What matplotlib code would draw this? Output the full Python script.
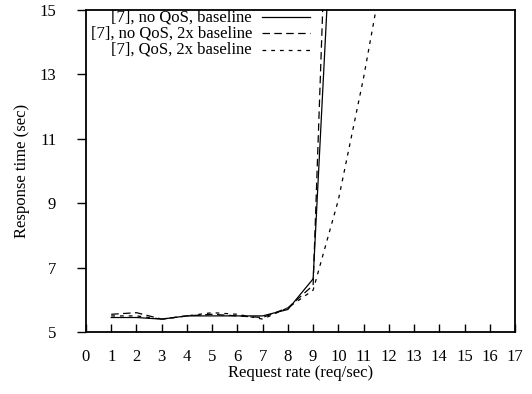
import matplotlib
matplotlib.use("Agg")
import matplotlib.pyplot as plt
from matplotlib.lines import Line2D

plt.rcParams['font.family'] = ['Liberation Serif', 'DejaVu Serif']

x_rate = [1, 2, 3, 4, 5, 6, 7, 8, 9, 10]
no_qos_base = [5.45, 5.45, 5.4, 5.5, 5.5, 5.5, 5.5, 5.7, 6.65, 22.0]
no_qos_2x = [5.55, 5.6, 5.4, 5.5, 5.55, 5.5, 5.45, 5.75, 6.45, 29.0]
x_rate_qos = [1, 2, 3, 4, 5, 6, 7, 8, 9, 10, 11, 12]
qos_2x = [5.5, 5.5, 5.4, 5.5, 5.6, 5.55, 5.4, 5.75, 6.3, 9.1, 12.9, 17.2]
labels = ["[7], no QoS, baseline", "[7], no QoS, 2x baseline", "[7], QoS, 2x baseline"]
xticks = list(range(0, 18))
yticks = [5, 7, 9, 11, 13, 15]

fig = plt.figure(figsize=(5.32, 3.94), dpi=100)
ax = fig.add_axes([86/532, 62/394, 429/532, 322/394])

lw = 0.9
styles = [dict(ls='-'), dict(dashes=(6, 3.5)), dict(dashes=(3, 4))]
ax.plot(x_rate, no_qos_base, color='black', lw=lw, **styles[0])
ax.plot(x_rate, no_qos_2x, color='black', lw=lw, **styles[1])
ax.plot(x_rate_qos, qos_2x, color='black', lw=lw, **styles[2])

ax.set_xlim(0, 17)
ax.set_ylim(5, 15)
ax.set_xticks(xticks)
ax.set_yticks(yticks)
ax.tick_params(axis='x', direction='in', length=6, width=1, labelsize=12, pad=12)
ax.tick_params(axis='y', direction='out', length=6.5, width=1, labelsize=12, pad=15)
for s in ax.spines.values():
    s.set_linewidth(1.3)

ax.set_xlabel("Request rate (req/sec)", fontsize=12, labelpad=0)
ax.set_ylabel("Response time (sec)", fontsize=12, labelpad=7)

# legend (gnuplot style: right-aligned text, sample to the right)
row_y = [17, 33, 50]
for lab, st, ypx in zip(labels, styles, row_y):
    yf = 1 - (ypx - 10) / 322
    ax.text((252 - 86) / 429, yf, lab, transform=ax.transAxes, ha='right', va='center', fontsize=12)
    ln = Line2D([(262 - 86) / 429, (310 - 86) / 429], [yf, yf], transform=ax.transAxes,
                color='black', lw=lw, **st)
    ax.add_line(ln)

fig.savefig("out.png", dpi=100)
